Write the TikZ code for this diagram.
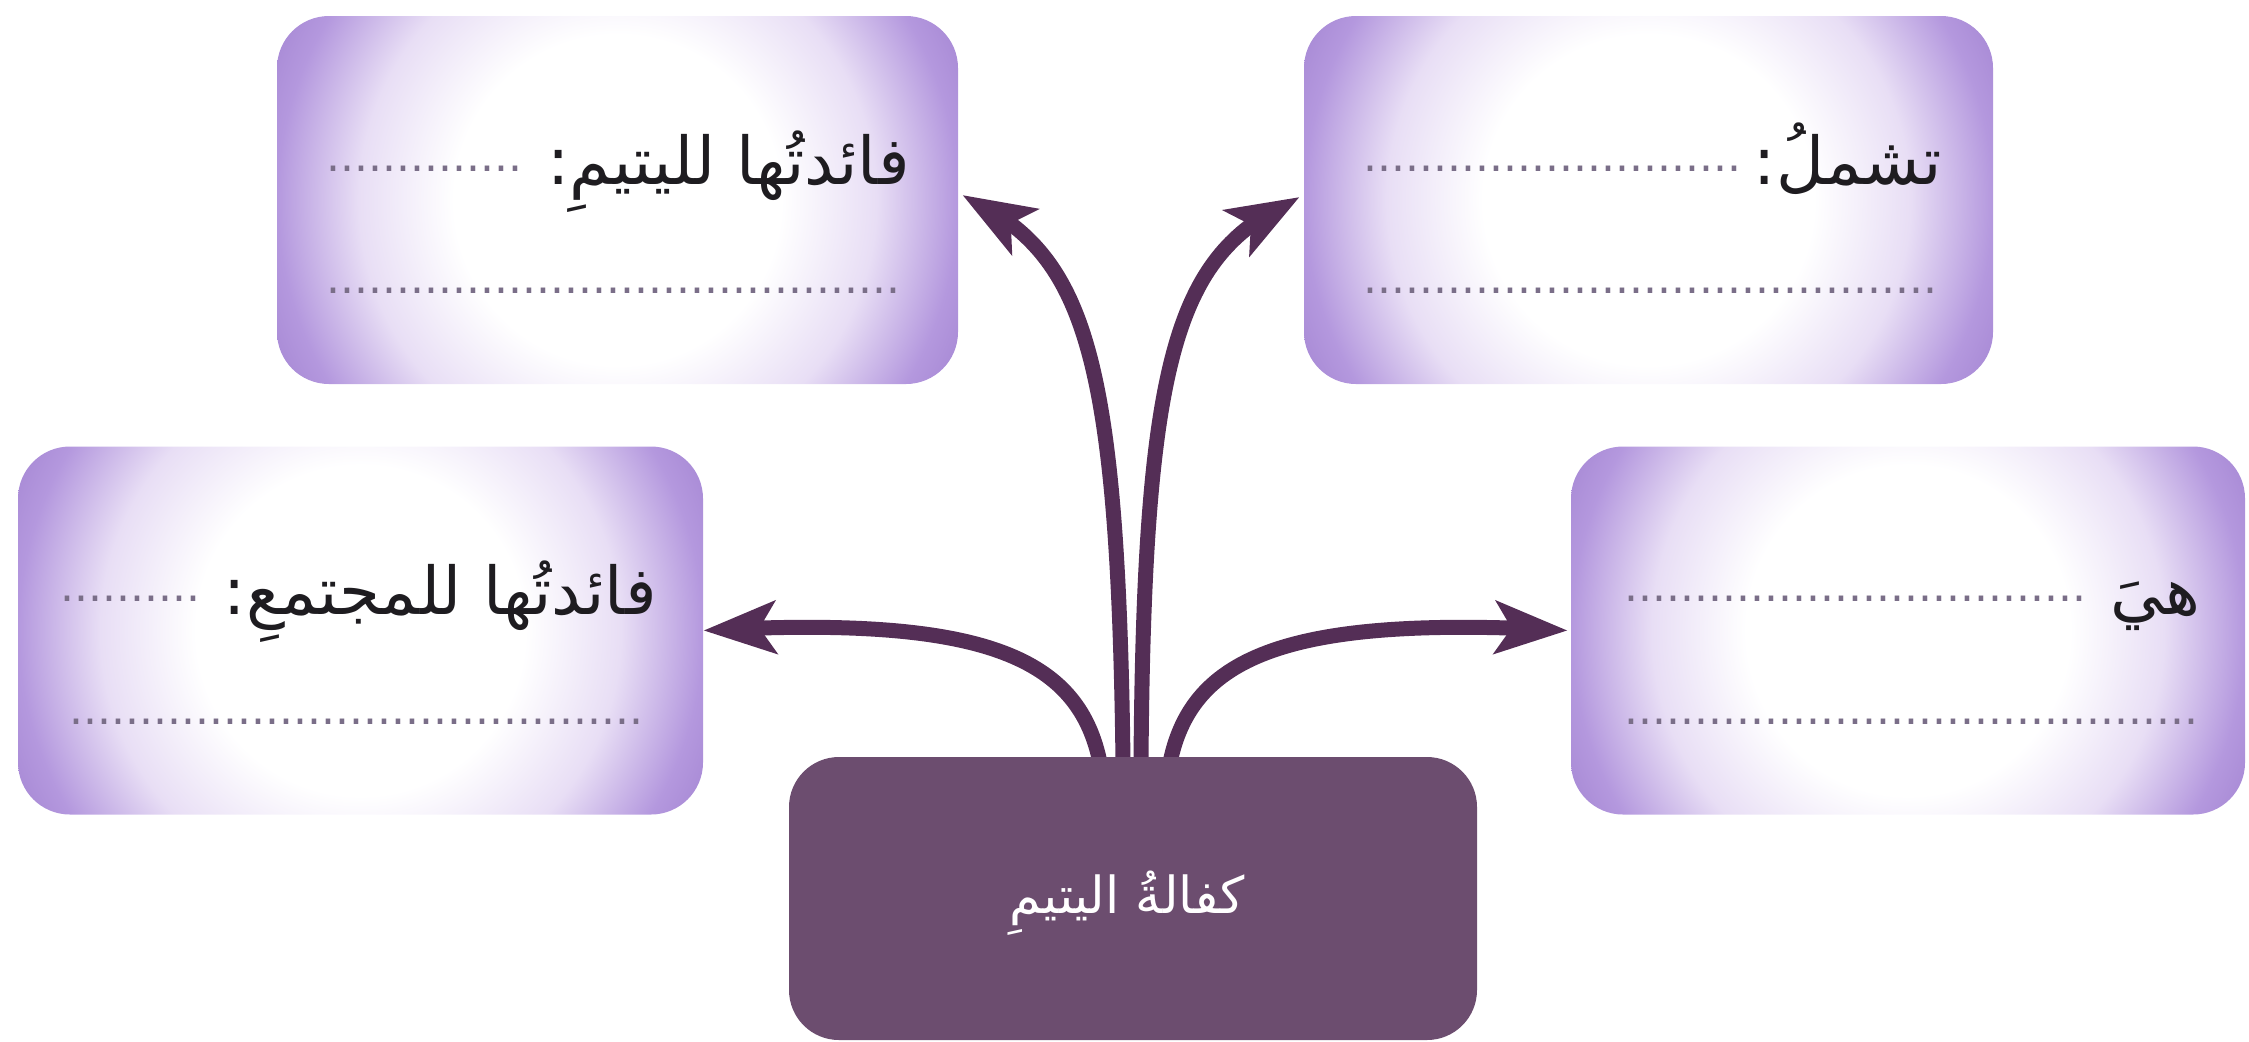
\documentclass[tikz,border=0pt]{standalone}
\usepackage{fontspec}
\TeXXeTstate=1
\newfontfamily\arabicfont[Script=Arabic]{DejaVu Sans}
\newfontfamily\dotfont{DejaVu Sans}
\usetikzlibrary{arrows.meta,bending,backgrounds}
\definecolor{lavA}{RGB}{232,222,245}
\definecolor{lavB}{RGB}{180,152,222}
\definecolor{lavC}{RGB}{158,126,206}
\definecolor{hubfill}{RGB}{108,77,111}
\definecolor{arrowcol}{RGB}{84,46,86}
\definecolor{dotcol}{RGB}{122,110,136}
\definecolor{txtcol}{RGB}{30,28,32}
\pgfdeclareradialshading{boxrad}{\pgfpoint{0bp}{0bp}}{color(0bp)=(white); color(12bp)=(white); color(19bp)=(lavA); color(25bp)=(lavB); color(30bp)=(lavC); color(50bp)=(lavC)}
\ExplSyntaxOn
\newcommand\dotrow[1]{\prg_replicate:nn{#1}{.}}
\ExplSyntaxOff
\tikzset{
  cardbox/.style={rounded corners=26pt, minimum height=184pt, inner sep=0pt,
    path picture={\shade[shading=boxrad] ([yshift=-80pt]path picture bounding box.south west) rectangle ([yshift=80pt]path picture bounding box.north east);}},
  hubbox/.style={rounded corners=25pt, fill=hubfill, minimum width=344pt, minimum height=141.5pt, inner sep=0pt},
  cardtext/.style={font=\arabicfont\fontsize{33}{40}\selectfont, text=txtcol, inner sep=0pt},
  hubtext/.style={font=\arabicfont\fontsize{25.5}{30}\selectfont, text=white, inner sep=0pt},
  dotline/.style={font=\dotfont\fontsize{22}{26}\selectfont, text=dotcol, inner sep=0pt},
  connector/.style={draw=arrowcol, line width=7.5pt, -{Stealth[length=36pt,width=26pt,inset=8pt,flex]}},
}
\begin{document}
\begin{tikzpicture}[x=0.5pt,y=-0.5pt]
\useasboundingbox (0,0) rectangle (2249,1041);
% cards
\node[cardbox, minimum width=340.5pt] (tl) at (617.5,200) {};
\node[cardbox, minimum width=344.5pt] (tr) at (1648.5,200) {};
\node[cardbox, minimum width=342.5pt] (ml) at (360.5,630.5) {};
\node[cardbox, minimum width=337pt] (mr) at (1908,630.5) {};
\node[hubbox] (hub) at (1133,898.5) {};
% texts
\node[cardtext, anchor=base east] (tlt) at (910,184) {\beginR فائدتُها لليتيمِ:\endR};
\node[cardtext, anchor=base east] (trt) at (1942,184) {\beginR تشملُ:\endR};
\node[cardtext, anchor=base east] (mlt) at (657,614) {\beginR فائدتُها للمجتمعِ:\endR};
\node[cardtext, anchor=base east] (mrt) at (2201,614) {\beginR هيَ\endR};
\node[hubtext] (hubt) at (1127,903) {\beginR كفالةُ اليتيمِ\endR};
% dotted blanks
\node[dotline, anchor=base west] (tld1) at (326,171) {\dotrow{14}};
\node[dotline, anchor=base west] (tld2) at (326,293) {\dotrow{41}};
\node[dotline, anchor=base west] (trd1) at (1363,171) {\dotrow{27}};
\node[dotline, anchor=base west] (trd2) at (1363,293) {\dotrow{41}};
\node[dotline, anchor=base west] (mld1) at (60,601) {\dotrow{10}};
\node[dotline, anchor=base west] (mld2) at (69,724) {\dotrow{41}};
\node[dotline, anchor=base west] (mrd1) at (1624,601) {\dotrow{33}};
\node[dotline, anchor=base west] (mrd2) at (1624,724) {\dotrow{41}};
% connectors
\begin{pgfonlayer}{background}
\draw[connector] ([xshift=-5pt,yshift=-3pt]hub.north) .. controls (1118,340) and (1082,252) .. ([xshift=2pt,yshift=2.5pt]tl.east);
\draw[connector] ([xshift=4pt,yshift=-3pt]hub.north) .. controls (1144,340) and (1180,252) .. ([xshift=-2pt,yshift=1.5pt]tr.west);
\draw[connector] ([xshift=-16.5pt,yshift=-3pt]hub.north) .. controls (1078,655) and (980,615) .. (ml.east);
\draw[connector] ([xshift=18.5pt,yshift=-3pt]hub.north) .. controls (1192,655) and (1290,615) .. ([xshift=-1.5pt]mr.west);
\end{pgfonlayer}
\end{tikzpicture}
\end{document}
